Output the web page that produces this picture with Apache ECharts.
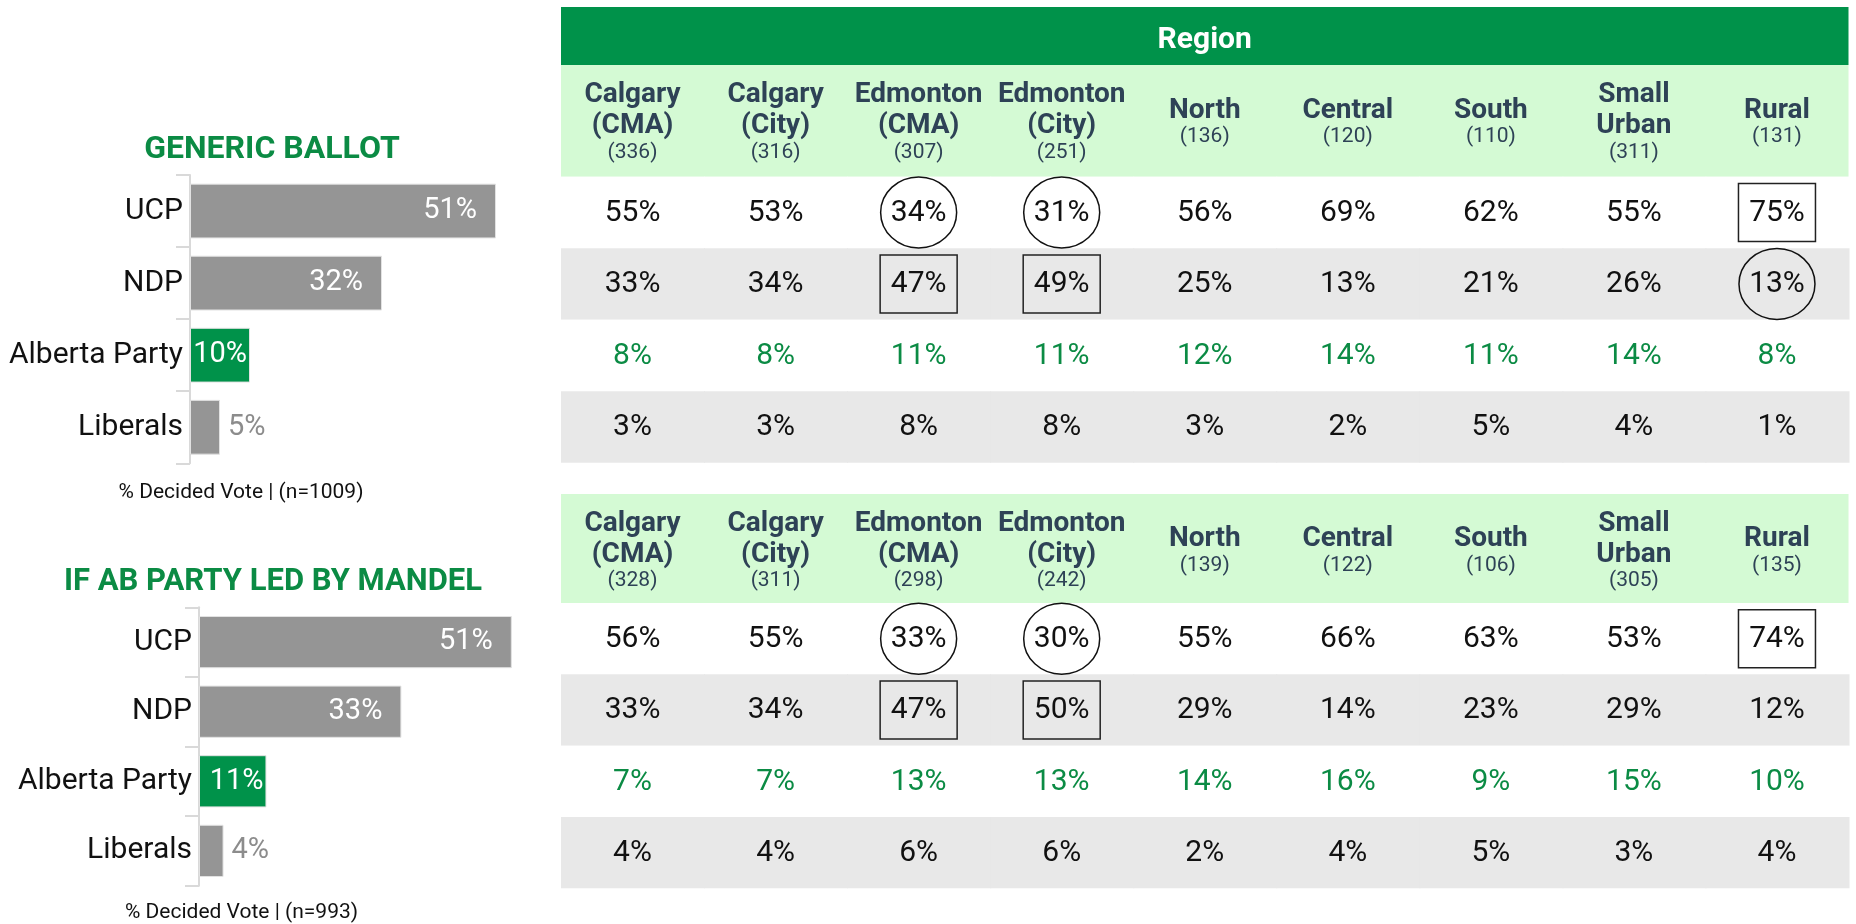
<!DOCTYPE html>
<html>
<head>
<meta charset="utf-8">
<title>Alberta vote by region</title>
<script src="https://cdn.jsdelivr.net/npm/echarts@6/dist/echarts.min.js"></script>
<style>
  html, body { margin: 0; padding: 0; background: #fff; }
  #chart { width: 1856px; height: 924px; }
</style>
</head>
<body>
<div id="chart"></div>
<script>
// ---- data ----
const parties = ['UCP', 'NDP', 'Alberta Party', 'Liberals'];
const regions = ['Calgary (CMA)', 'Calgary (City)', 'Edmonton (CMA)', 'Edmonton (City)',
                 'North', 'Central', 'South', 'Small Urban', 'Rural'];

const genericBallot = [51, 32, 10, 5];
const mandelBallot = [51, 33, 11, 4];
const sampleSizes = [1009, 993];

// generic ballot by region
const regionN1 = [336, 316, 307, 251, 136, 120, 110, 311, 131];
const ucp1 = [55, 53, 34, 31, 56, 69, 62, 55, 75];
const ndp1 = [33, 34, 47, 49, 25, 13, 21, 26, 13];
const abp1 = [8, 8, 11, 11, 12, 14, 11, 14, 8];
const lib1 = [3, 3, 8, 8, 3, 2, 5, 4, 1];
const circled1 = [[0, 2], [0, 3], [1, 8]];   // [row, column]
const boxed1 = [[1, 2], [1, 3], [0, 8]];

// AB party led by Mandel, by region
const regionN2 = [328, 311, 298, 242, 139, 122, 106, 305, 135];
const ucp2 = [56, 55, 33, 30, 55, 66, 63, 53, 74];
const ndp2 = [33, 34, 47, 50, 29, 14, 23, 29, 12];
const abp2 = [7, 7, 13, 13, 14, 16, 9, 15, 10];
const lib2 = [4, 4, 6, 6, 2, 4, 5, 3, 4];
const circled2 = [[0, 2], [0, 3]];
const boxed2 = [[1, 2], [1, 3], [0, 8]];

// ---- styles ----
const FONT = 'Roboto';
const GREEN = '#00924a';
const TEXT_GREEN = '#0b8b44';
const GRAY = '#959595';
const HEAD = '#2e4256';

function barLabel(v) {
    if (v >= 20) return { position: 'insideRight', distance: 19, color: '#fff' };
    if (v >= 8) return { position: 'insideRight', distance: 3, color: '#fff' };
    return { position: 'right', distance: 8, color: '#8c8c8c' };
}

function barData(values) {
    return values.map(function (v, i) {
        return {
            value: v,
            itemStyle: { color: i === 2 ? GREEN : GRAY },
            label: barLabel(v)
        };
    });
}

function cellData(rows, circled, boxed) {
    const out = [];
    rows.forEach(function (row, r) {
        row.forEach(function (v, c) {
            let mark = 0;
            if (circled.some(p => p[0] === r && p[1] === c)) mark = 1;
            if (boxed.some(p => p[0] === r && p[1] === c)) mark = 2;
            out.push([c, r, v, mark]);
        });
    });
    return out;
}

function renderCell(params, api) {
    const r = api.value(1), v = api.value(2), mark = api.value(3);
    const pt = api.coord([api.value(0), r]);
    const sz = api.size([1, 1]);
    const children = [{
        type: 'rect',
        z2: 0,
        shape: { x: pt[0] - sz[0] / 2, y: pt[1] - sz[1] / 2, width: sz[0] + 1, height: sz[1] },
        style: { fill: r % 2 === 1 ? '#e8e8e8' : '#ffffff' }
    }];
    if (mark === 1) {
        children.push({
            type: 'ellipse', z2: 10,
            shape: { cx: pt[0], cy: pt[1], rx: 38, ry: 35.5 },
            style: { fill: 'none', stroke: '#111', lineWidth: 1.5 }
        });
    } else if (mark === 2) {
        children.push({
            type: 'rect', z2: 10,
            shape: { x: pt[0] - 38.5, y: pt[1] - 29, width: 77, height: 58 },
            style: { fill: 'none', stroke: '#222', lineWidth: 1.5 }
        });
    }
    children.push({
        type: 'text', z2: 11,
        style: {
            text: v + '%', x: pt[0], y: pt[1] + 1,
            align: 'center', verticalAlign: 'middle',
            fontSize: 30, fontFamily: FONT,
            fill: r === 2 ? TEXT_GREEN : '#111'
        }
    });
    return { type: 'group', children: children };
}

function headerAxis(gridIndex, nList, margin) {
    return {
        gridIndex: gridIndex,
        type: 'category',
        data: regions,
        position: 'top',
        z: 10,
        axisLine: { show: false },
        axisTick: { show: false },
        axisLabel: {
            interval: 0,
            margin: margin,
            verticalAlign: 'middle',
            align: 'center',
            formatter: function (val, idx) {
                return val.split(' ').map(s => '{b|' + s + '}').join('\n') +
                    '\n{n|(' + nList[idx] + ')}';
            },
            rich: {
                b: { fontSize: 28, fontWeight: 'bold', lineHeight: 31, color: HEAD, fontFamily: FONT },
                n: { fontSize: 21, lineHeight: 22, color: HEAD, fontFamily: FONT }
            }
        }
    };
}

function partyAxis(gridIndex) {
    return {
        gridIndex: gridIndex,
        type: 'category',
        inverse: true,
        data: parties,
        axisLine: { lineStyle: { color: '#d9d9d9', width: 2 } },
        axisTick: { show: true, length: 14, lineStyle: { color: '#d9d9d9', width: 2 } },
        axisLabel: { fontSize: 30, color: '#111', margin: 7, fontFamily: FONT }
    };
}

const chart = echarts.init(document.getElementById('chart'));

chart.setOption({
    backgroundColor: '#ffffff',
    animation: false,
    grid: [
        { left: 190, top: 175, width: 360, height: 288.3 },
        { left: 199, top: 607.3, width: 368, height: 278.4 },
        { left: 561, top: 176.7, width: 1287.5, height: 286 },
        { left: 561, top: 603, width: 1287.5, height: 285.3 }
    ],
    xAxis: [
        { gridIndex: 0, type: 'value', min: 0, max: 60, show: false },
        { gridIndex: 1, type: 'value', min: 0, max: 60, show: false },
        headerAxis(2, regionN1, 55),
        headerAxis(3, regionN2, 53)
    ],
    yAxis: [
        partyAxis(0),
        partyAxis(1),
        { gridIndex: 2, type: 'category', inverse: true, data: parties, show: false },
        { gridIndex: 3, type: 'category', inverse: true, data: parties, show: false }
    ],
    graphic: [
        { type: 'rect', z: -1, shape: { x: 561, y: 7, width: 1287.5, height: 58 }, style: { fill: GREEN } },
        { type: 'text', x: 1204.7, y: 40, style: { text: 'Region', align: 'center', verticalAlign: 'middle',
            fontSize: 30, fontWeight: 'bold', fontFamily: FONT, fill: '#fff' } },
        { type: 'rect', z: -1, shape: { x: 561, y: 65, width: 1287.5, height: 111.7 }, style: { fill: '#d4fad4' } },
        { type: 'rect', z: -1, shape: { x: 561, y: 494, width: 1287.5, height: 109 }, style: { fill: '#d4fad4' } },
        { type: 'text', x: 272, y: 150, style: { text: 'GENERIC BALLOT', align: 'center', verticalAlign: 'middle',
            fontSize: 32, fontWeight: 'bold', fontFamily: FONT, fill: TEXT_GREEN } },
        { type: 'text', x: 273, y: 582, style: { text: 'IF AB PARTY LED BY MANDEL', align: 'center', verticalAlign: 'middle',
            fontSize: 31, fontWeight: 'bold', fontFamily: FONT, fill: TEXT_GREEN } },
        { type: 'text', x: 241, y: 493, style: { text: '% Decided Vote | (n=' + sampleSizes[0] + ')', align: 'center',
            verticalAlign: 'middle', fontSize: 21, fontFamily: FONT, fill: '#111' } },
        { type: 'text', x: 241.5, y: 913, style: { text: '% Decided Vote | (n=' + sampleSizes[1] + ')', align: 'center',
            verticalAlign: 'middle', fontSize: 21, fontFamily: FONT, fill: '#111' } }
    ],
    series: [
        {
            type: 'bar', xAxisIndex: 0, yAxisIndex: 0,
            barCategoryGap: '24%',
            itemStyle: { borderColor: '#e2e2e2', borderWidth: 1 },
            label: { show: true, formatter: '{c}%', fontSize: 29, fontFamily: FONT },
            data: barData(genericBallot)
        },
        {
            type: 'bar', xAxisIndex: 1, yAxisIndex: 1,
            barCategoryGap: '25%',
            itemStyle: { borderColor: '#e2e2e2', borderWidth: 1 },
            label: { show: true, formatter: '{c}%', fontSize: 29, fontFamily: FONT },
            data: barData(mandelBallot)
        },
        {
            type: 'custom', xAxisIndex: 2, yAxisIndex: 2,
            renderItem: renderCell,
            data: cellData([ucp1, ndp1, abp1, lib1], circled1, boxed1)
        },
        {
            type: 'custom', xAxisIndex: 3, yAxisIndex: 3,
            renderItem: renderCell,
            data: cellData([ucp2, ndp2, abp2, lib2], circled2, boxed2)
        }
    ]
});
</script>
</body>
</html>
